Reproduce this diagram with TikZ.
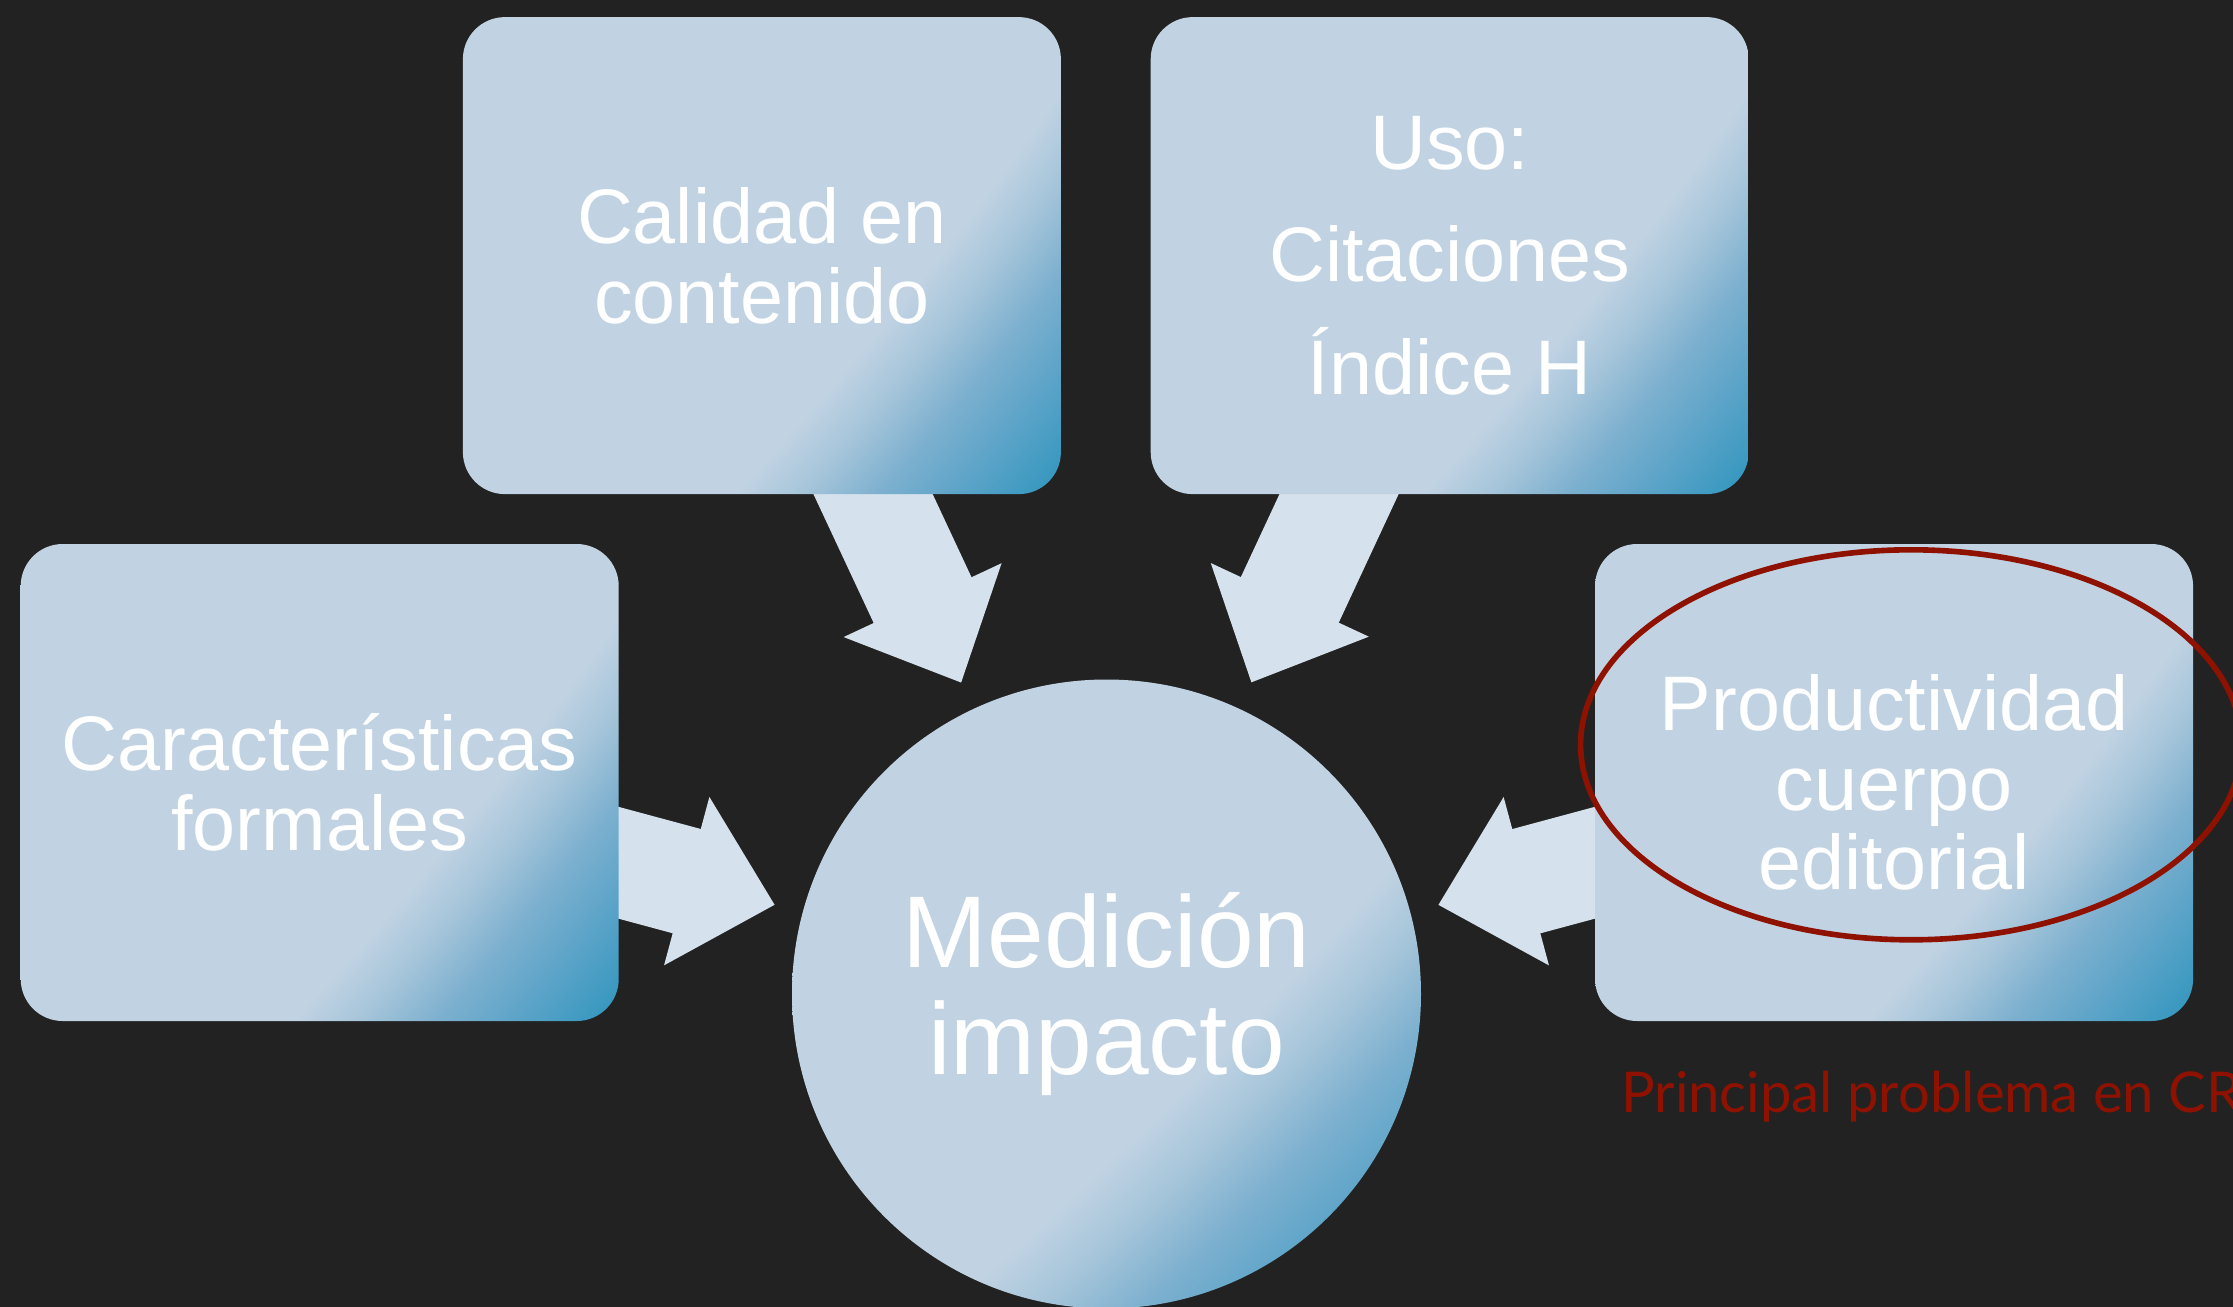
\documentclass[tikz,border=0pt]{standalone}
\usepackage{fontspec}
\setmainfont{Liberation Sans}
\newfontfamily\notefont{Lato}
\usetikzlibrary{arrows.meta,shapes.geometric,backgrounds}
\definecolor{bgdark}{HTML}{222222}
\definecolor{tilelight}{HTML}{C1D3E3}
\definecolor{tilesoft}{HTML}{A6C5DA}
\definecolor{tilemid}{HTML}{7DB0CF}
\definecolor{tiledeep}{HTML}{5AA3C8}
\definecolor{tiledark}{HTML}{2F95BD}
\definecolor{arrowfill}{HTML}{D5E1EC}
\definecolor{notered}{HTML}{8F1200}
\pgfdeclareradialshading{tileglow}{\pgfpointorigin}{color(0bp)=(tilelight); color(23.158bp)=(tilelight); color(23.487bp)=(tilesoft); color(23.862bp)=(tilemid); color(24.276bp)=(tiledeep); color(24.77bp)=(tiledark); color(50bp)=(tiledark)}

\begin{document}
\begin{tikzpicture}[tile/.style={rectangle, rounded corners=4.2mm, minimum width=5.98cm, minimum height=4.77cm, inner sep=0pt, path picture={\shade[shading=tileglow] ([shift={(-22.95cm,19.35cm)}]path picture bounding box.north west) circle (38cm);}, text=white, align=center, font=\fontsize{22}{22.7}\selectfont},
	hub/.style={circle, minimum size=6.29cm, inner sep=0pt, path picture={\shade[shading=tileglow] ([shift={(-26.25cm,26.25cm)}]path picture bounding box.north west) circle (46.17cm);}, text=white, align=center, font=\fontsize{29}{30.5}\selectfont},
	flow/.style={color=arrowfill, line width=10.8mm, shorten <=-4mm, shorten >=2.85mm, -{Triangle[length=9.1mm, width=17.4mm, line width=0.6pt]}},
	highlightring/.style={ellipse, draw=notered, line width=1.6pt, minimum width=6.61cm, minimum height=3.9cm, inner sep=0pt},
	notetext/.style={text=notered, inner sep=0pt, font=\notefont\fontsize{16}{19}\selectfont}]
	\useasboundingbox (0,0) rectangle (22.33,-13.07);
	\node[tile] (calidad) at (7.619,-2.556) {Calidad en\\contenido};
	\node[tile] (uso) at (14.497,-2.556) {Uso:\\[3.3mm]Citaciones\\[3.3mm]Índice H};
	\node[tile] (formales) at (3.197,-7.825) {Características\\formales};
	\node[tile] (productividad) at (18.941,-7.825) {Productividad\\cuerpo\\editorial};
	\node[hub] (medicion) at (11.065,-9.940) {Medición\\impacto};
	\node[highlightring] (anillo) at (19.111,-7.448) {};
	\node[notetext, anchor=base west] (nota) at (16.206,-11.122) {Principal problema en CR};
	\begin{scope}[on background layer]
		\fill[bgdark] (0,0) rectangle (22.33,-13.07);
		\draw[flow] (calidad) -- (medicion);
		\draw[flow] (uso) -- (medicion);
		\draw[flow] (formales) -- (medicion);
		\draw[flow] (productividad) -- (medicion);
	\end{scope}
\end{tikzpicture}
\end{document}
